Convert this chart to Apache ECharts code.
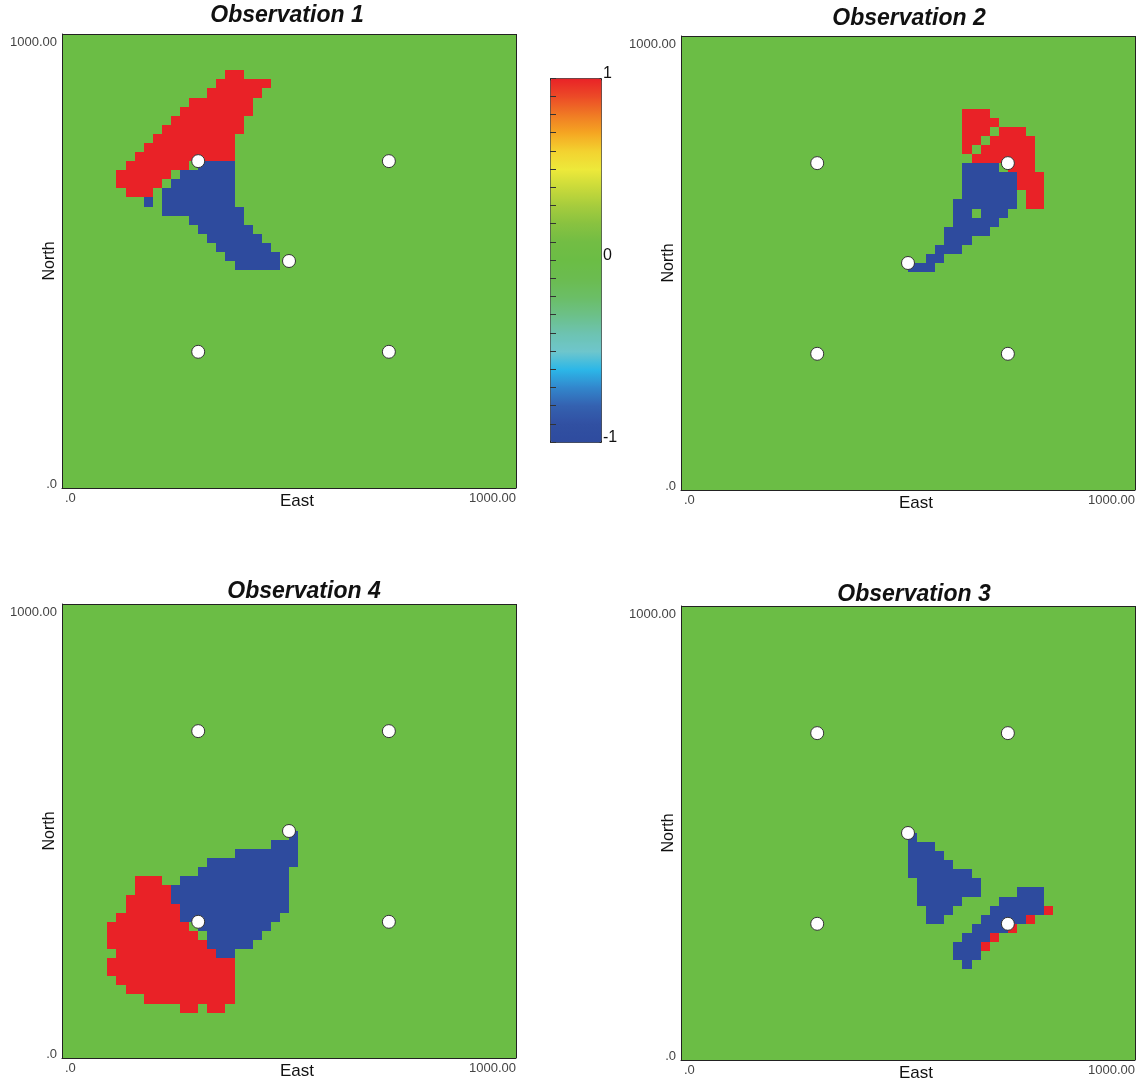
<!DOCTYPE html>
<html>
<head>
<meta charset="utf-8">
<script src="https://cdn.jsdelivr.net/npm/echarts@6/dist/echarts.min.js"></script>
<style>
  html, body { margin: 0; padding: 0; background: #fff; }
  #chart { width: 1143px; height: 1084px; }
</style>
</head>
<body>
<div id="chart"></div>
<script>
// 50 x 50 cells of 20 m; i = column counted from the west, j = row counted from the south
var cellSize = 20;
var nCells = 50;

// well locations (white circles)
var wellX = [300, 720, 500, 300, 720];
var wellY = [720, 720, 500, 300, 300];

// runs of cells [j, iFrom, iTo] with value +1 (red) and -1 (blue); everything else is 0
var obs1Pos = [[45,18,19],[44,17,22],[43,16,21],[42,14,20],[41,13,20],[40,12,19],[39,11,19],
  [38,10,18],[37,9,18],[36,8,18],[35,7,13],[34,6,11],[33,6,10],[32,7,9]];
var obs1Neg = [[35,15,18],[34,13,18],[33,12,18],[32,11,18],[31,11,18],[31,9,9],[30,11,19],
  [29,14,19],[28,15,20],[27,16,21],[26,17,22],[25,18,23],[24,19,23]];

var obs2Pos = [[41,31,33],[40,31,34],[39,31,33],[39,35,37],[38,31,32],[38,34,38],[37,31,31],
  [37,33,38],[36,32,38],[35,36,38],[34,37,39],[33,37,39],[32,38,39],[31,38,39]];
var obs2Neg = [[35,31,34],[34,31,36],[33,31,36],[32,31,36],[31,30,36],[30,30,31],[30,33,35],
  [29,30,34],[28,29,33],[27,29,31],[26,28,30],[25,27,28],[24,25,27]];

var obs3Pos = [[16,40,40],[15,38,38],[14,36,36],[13,34,34],[12,33,33]];
var obs3Neg = [[24,25,25],[23,25,27],[22,25,28],[21,25,29],[20,25,31],[19,26,32],[18,26,32],
  [18,37,39],[17,26,30],[17,35,39],[16,27,29],[16,34,39],[15,27,28],[15,33,37],[14,32,35],
  [13,31,33],[12,30,32],[11,30,32],[10,31,31]];

var obs4Pos = [[19,8,10],[18,8,11],[17,7,11],[16,7,12],[15,6,12],[14,5,13],[13,5,14],[12,5,15],
  [11,6,16],[10,5,18],[9,5,18],[8,6,18],[7,7,18],[6,9,18],[5,13,14],[5,16,17]];
var obs4Neg = [[24,25,25],[23,23,25],[22,19,25],[21,16,25],[20,15,24],[19,13,24],[18,12,24],
  [17,12,24],[16,13,24],[15,13,23],[14,15,22],[13,16,21],[12,16,20],[11,17,18]];

// colour scale from -1 to 1
var scaleColors = ['#2e4b9e','#3150a2','#3461b0','#3286cc','#2cb7e8','#6ec6cc','#6dc3b0',
  '#6cc088','#6bbe65','#6bbc50','#6bbd45','#72bd44','#88c240','#a6cc3d','#c9da3a','#ede93a',
  '#f3d230','#f5a622','#f07a24','#ec4a27','#e92227'];

function buildCells(pos, neg) {
  var grid = [];
  for (var j = 0; j < nCells; j++) {
    grid.push([]);
    for (var i = 0; i < nCells; i++) grid[j].push(0);
  }
  pos.forEach(function (r) { for (var i = r[1]; i <= r[2]; i++) grid[r[0]][i] = 1; });
  neg.forEach(function (r) { for (var i = r[1]; i <= r[2]; i++) grid[r[0]][i] = -1; });
  var out = [];
  for (var j = 0; j < nCells; j++)
    for (var i = 0; i < nCells; i++) out.push([i, j, grid[j][i]]);
  return out;
}

// snap cell edges to whole pixels so neighbouring cells meet without seams
function renderCell(params, api) {
  var i = api.value(0), j = api.value(1);
  var p0 = api.coord([i * cellSize, (j + 1) * cellSize]);
  var p1 = api.coord([(i + 1) * cellSize, j * cellSize]);
  var x0 = Math.round(p0[0]), y0 = Math.round(p0[1]);
  var x1 = Math.round(p1[0]), y1 = Math.round(p1[1]);
  return {
    type: 'rect',
    shape: { x: x0, y: y0, width: x1 - x0, height: y1 - y0 },
    style: { fill: api.visual('color'), stroke: null }
  };
}

var panels = [
  { title: 'Observation 1', cells: buildCells(obs1Pos, obs1Neg), left: 62, top: 34, titleX: 287, titleY: 4 },
  { title: 'Observation 2', cells: buildCells(obs2Pos, obs2Neg), left: 681, top: 36, titleX: 909, titleY: 7 },
  { title: 'Observation 4', cells: buildCells(obs4Pos, obs4Neg), left: 62, top: 604, titleX: 304, titleY: 580 },
  { title: 'Observation 3', cells: buildCells(obs3Pos, obs3Neg), left: 681, top: 606, titleX: 914, titleY: 583 }
];
var size = 454;

var wells = wellX.map(function (x, k) { return [x, wellY[k]]; });

var grids = [], xAxes = [], yAxes = [], titles = [], cellSeries = [], wellSeries = [];
panels.forEach(function (p, k) {
  grids.push({ left: p.left, top: p.top, width: size, height: size, containLabel: false, outerBoundsMode: 'none' });
  titles.push({
    text: p.title, left: p.titleX, top: p.titleY, textAlign: 'center', padding: 0,
    textStyle: { fontSize: 23, fontWeight: 'bold', fontStyle: 'italic', color: '#111' }
  });
  xAxes.push({
    gridIndex: k, type: 'value', min: 0, max: 1000, interval: 1000, z: 5,
    name: 'East', nameLocation: 'middle', nameGap: 5, nameMoveOverlap: false,
    nameTextStyle: { fontSize: 17, color: '#111', verticalAlign: 'top', padding: [0, 0, 0, 16] },
    axisLine: { show: true, lineStyle: { color: '#222', width: 1 } },
    axisTick: { show: false },
    splitLine: { show: true, lineStyle: { color: '#222', width: 1 } },
    axisLabel: {
      fontSize: 13, color: '#444', margin: 4,
      alignMinLabel: 'left', alignMaxLabel: 'right',
      formatter: function (v) { return v === 0 ? '{l|.0}' : '1000.00'; },
      rich: { l: { fontSize: 13, color: '#444', padding: [0, 0, 0, 3] } }
    }
  });
  yAxes.push({
    gridIndex: k, type: 'value', min: 0, max: 1000, interval: 1000, z: 5,
    name: 'North', nameLocation: 'middle', nameGap: 4, nameMoveOverlap: false,
    nameTextStyle: { fontSize: 16, color: '#111' },
    axisLine: { show: true, lineStyle: { color: '#222', width: 1 } },
    axisTick: { show: false },
    splitLine: { show: true, lineStyle: { color: '#222', width: 1 } },
    axisLabel: {
      fontSize: 13, color: '#444', margin: 5,
      verticalAlignMinLabel: 'bottom', verticalAlignMaxLabel: 'top',
      formatter: function (v) { return v === 0 ? '{b|.0}' : '{t|1000.00}'; },
      rich: {
        t: { fontSize: 13, color: '#444', lineHeight: 16 },
        b: { fontSize: 13, color: '#444', lineHeight: 8 }
      }
    }
  });
  cellSeries.push({
    type: 'custom', xAxisIndex: k, yAxisIndex: k, renderItem: renderCell,
    data: p.cells, encode: { x: 0, y: 1 }, z: 1, silent: true, animation: false
  });
  wellSeries.push({
    type: 'scatter', xAxisIndex: k, yAxisIndex: k, data: wells, symbolSize: 13, z: 10,
    itemStyle: { color: '#fff', borderColor: '#333', borderWidth: 1, opacity: 1 },
    silent: true, animation: false
  });
});

// colour bar axis
grids.push({ left: 550, top: 78, width: 51, height: 364, containLabel: false, outerBoundsMode: 'none' });
xAxes.push({ gridIndex: 4, type: 'value', show: false });
yAxes.push({
  gridIndex: 4, type: 'value', position: 'right', min: -1, max: 1, interval: 0.1, z: 5,
  axisLine: { show: false },
  axisTick: { show: true, length: 6, lineStyle: { color: '#333', width: 1 } },
  splitLine: { show: false },
  axisLabel: {
    fontSize: 16, color: '#111', margin: 2, verticalAlign: 'bottom', lineHeight: 8,
    formatter: function (v) {
      var r = Math.round(v * 10);
      if (r === 10) return '1';
      if (r === 0) return '0';
      if (r === -10) return '-1';
      return '';
    }
  }
});

var chart = echarts.init(document.getElementById('chart'));
chart.setOption({
  animation: false,
  backgroundColor: '#fff',
  textStyle: { fontFamily: '"Liberation Sans", Arial, sans-serif' },
  title: titles,
  grid: grids,
  xAxis: xAxes,
  yAxis: yAxes,
  visualMap: {
    type: 'continuous', min: -1, max: 1, dimension: 2, seriesIndex: [0, 1, 2, 3],
    calculable: false, hoverLink: false, left: 550, top: 78, itemWidth: 51, itemHeight: 364,
    padding: 0, text: null, showLabel: false, borderColor: '#222', borderWidth: 1,
    inRange: { color: scaleColors }
  },
  series: cellSeries.concat(wellSeries)
});
</script>
</body>
</html>
